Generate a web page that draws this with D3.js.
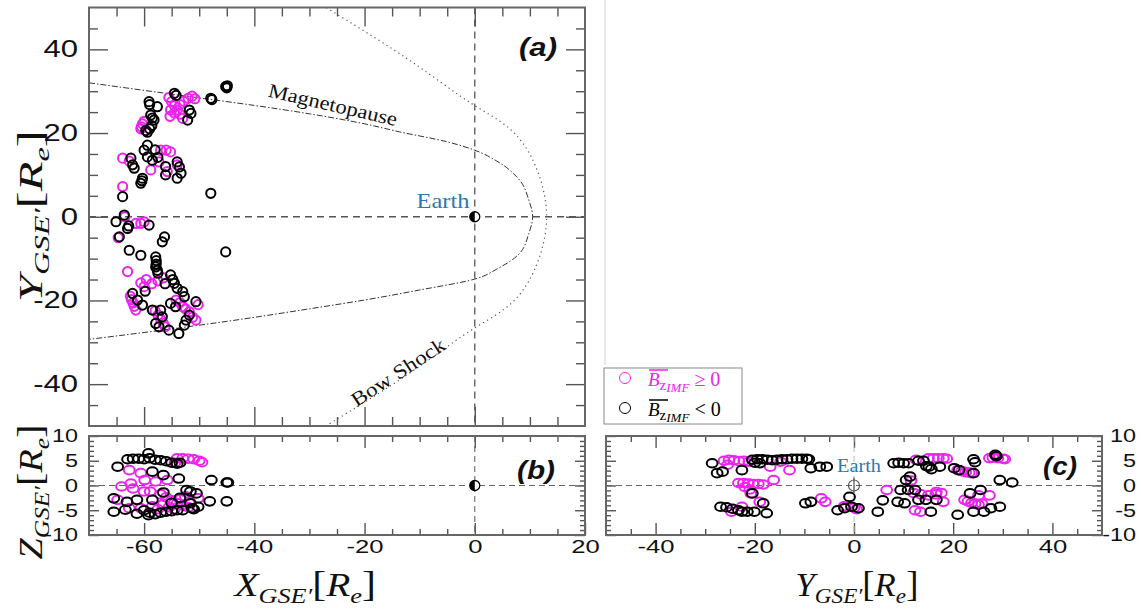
<!DOCTYPE html>
<html>
<head>
<meta charset="utf-8">
<script src="https://cdn.jsdelivr.net/npm/d3@7"></script>
<style>
  body { margin: 0; background: #fff; }
  svg { display: block; }
</style>
</head>
<body>
<script>
// ---- panel (a): X-Y plane, [X, Y] in Re ----
const aNeg = [
  [-59.1,27.5],[-59.0,26.8],[-57.6,26.3],[-58.8,24.3],[-58.5,23.6],[-58.2,23.1],[-59.7,20.6],[-59.4,20.2],
  [-59.0,21.0],[-58.6,21.8],[-54.5,29.5],[-54.2,29.0],[-51.8,25.5],[-51.5,24.7],[-52.1,23.1],[-47.9,28.3],
  [-47.7,28.0],[-45.2,31.1],[-44.9,31.3],[-45.0,30.8],
  [-59.4,17.1],[-62.4,14.0],[-61.8,11.6],[-62.1,12.4],[-60.0,15.9],[-59.4,14.3],[-58.5,13.5],[-60.3,9.2],
  [-60.6,8.0],[-60.4,8.6],[-56.1,12.0],[-56.1,10.0],[-54.0,13.1],[-53.6,11.9],[-53.3,10.4],[-54.0,9.2],
  [-63.9,4.8],[-47.9,5.6],[-58.0,16.0],[-57.5,14.2],
  [-63.6,0.4],[-65.1,-1.2],[-63.0,-2.8],[-62.8,-2.2],[-59.1,-2.0],[-64.5,-4.8],[-56.3,-4.8],[-62.7,-8.0],
  [-60.6,-9.2],[-56.7,-6.0],[-45.2,-8.4],
  [-57.9,-9.6],[-57.8,-10.5],[-57.8,-11.3],[-57.9,-12.0],[-57.6,-12.8],[-57.5,-13.5],
  [-55.2,-13.9],[-54.5,-15.9],[-54.0,-17.1],[-53.0,-17.9],[-52.7,-19.1],[-54.8,-15.0],
  [-62.1,-18.3],[-61.2,-19.9],[-60.3,-21.1],[-58.5,-22.3],[-57.0,-22.3],[-56.7,-23.9],
  [-57.9,-25.5],[-57.3,-26.3],[-55.5,-27.1],[-53.7,-27.9],[-52.4,-24.7],[-51.8,-23.5],[-52.7,-25.9],
  [-50.6,-20.3],[-55.2,-20.7],[-54.3,-21.5],[-59.8,-17.8],[-56.2,-16.0]
];
const aPos = [
  [-60.5,21.5],[-60.3,22.2],[-60.0,22.8],[-60.6,21.0],[-55.5,28.5],[-55.0,27.5],[-54.5,26.5],[-54.0,25.5],
  [-53.5,24.5],[-53.0,23.5],[-55.3,24.0],[-54.5,24.8],[-53.5,26.8],[-52.8,27.6],[-52.0,28.3],[-51.3,28.8],
  [-50.8,28.2],[-55.2,25.5],
  [-63.9,14.0],[-58.8,11.2],[-57.0,15.9],[-56.0,15.9],[-55.2,15.5],[-57.3,13.1],[-54.0,12.4],[-63.9,7.2],
  [-62.7,13.3],[-55.8,10.8],
  [-63.5,0.0],[-61.5,-1.6],[-60.6,-1.6],[-60.0,-1.2],[-64.7,-5.0],
  [-63.0,-13.1],[-60.6,-15.8],[-59.6,-15.0],[-58.6,-16.0],[-57.5,-15.3],[-56.5,-14.6],[-60.0,-16.7],
  [-62.5,-19.0],[-62.3,-19.8],[-62.0,-20.6],[-61.8,-21.4],[-61.5,-22.3],
  [-58.0,-22.5],[-57.5,-23.5],[-57.0,-24.5],[-56.5,-25.5],[-56.2,-26.3],
  [-54.2,-19.9],[-53.0,-21.5],[-51.8,-22.7],[-50.6,-24.7],[-52.5,-22.0],[-51.2,-24.0],[-53.5,-20.5],[-50.2,-21.0]
];

// ---- panel (b): X-Z plane, [X, Z] ----
const bNeg = [
  [-63.0,5.3],[-62.0,5.4],[-61.0,5.4],[-60.0,5.3],[-59.0,5.5],[-58.0,5.2],[-57.0,5.1],[-56.0,4.9],
  [-55.0,4.6],[-54.0,4.4],[-53.5,4.6],
  [-64.8,3.8],[-59.2,6.5],[-58.5,2.8],[-56.5,2.1],[-53.7,1.4],[-47.8,1.1],[-45.0,0.6],[-44.8,0.6],
  [-56.5,-1.4],[-52.3,-0.9],[-51.6,-1.2],[-50.5,-1.6],[-65.5,-2.6],[-63.1,-3.3],[-61.3,-2.9],[-58.5,-2.9],
  [-63.4,-4.9],[-65.5,-5.3],
  [-60.0,-5.0],[-59.0,-5.5],[-58.0,-5.8],[-57.0,-5.5],[-56.0,-5.3],[-55.0,-5.2],[-54.0,-5.0],[-53.0,-5.0],
  [-59.2,-6.0],[-61.3,-5.7],
  [-51.3,-4.6],[-51.0,-4.8],[-48.1,-3.2],[-45.0,-3.2],[-50.2,-4.3],[-51.6,-3.6],[-55.0,-3.5],[-53.5,-2.5]
];
const bPos = [
  [-54.0,5.5],[-53.0,5.5],[-52.0,5.4],[-51.0,5.3],[-50.0,5.0],[-49.5,4.7],[-54.4,4.6],
  [-62.7,3.1],[-60.6,2.5],[-59.9,1.1],[-55.8,1.1],[-57.9,0.8],[-64.1,-0.2],[-62.4,0.4],[-62.0,-0.6],
  [-60.0,-1.2],[-58.9,-1.2],
  [-57.0,-1.8],[-56.0,-2.4],[-55.0,-3.0],[-54.0,-3.6],[-53.0,-4.0],[-52.0,-4.4],[-56.5,-3.8],[-55.5,-4.4],
  [-54.5,-4.8],[-53.5,-2.8],[-52.5,-2.2],[-51.8,-3.2],
  [-64.8,-2.9],[-62.7,-4.6],[-60.6,-4.6],[-50.2,-2.6],[-57.5,-4.8],[-58.5,-4.2]
];

// ---- panel (c): Y-Z plane, [Y, Z] ----
const cNeg = [
  [-28.6,4.5],[-27.6,2.5],[-26.5,2.8],[-22.6,3.1],
  [-20.5,5.2],[-19.5,5.3],[-18.5,5.3],[-17.5,5.2],[-16.5,5.1],[-15.5,5.2],[-14.5,5.3],[-13.5,5.3],
  [-12.5,5.4],[-11.5,5.4],[-10.5,5.4],[-9.5,5.4],[-9.1,5.3],[-20.0,4.6],[-19.0,4.5],
  [-8.7,3.5],[-5.5,3.8],[-6.9,3.8],
  [-26.9,-4.3],[-25.7,-4.4],[-24.5,-4.7],[-23.3,-5.0],[-22.6,-5.3],[-21.5,-5.3],[-20.1,-5.3],[-17.6,-5.6],
  [-18.3,-3.6],[-20.5,-1.6],
  [-9.8,-3.6],[-8.7,-3.3],[-3.3,-5.0],[-1.9,-4.6],[-0.5,-4.3],[0.9,-4.6],[-0.9,-2.3],[4.8,-5.3],[5.8,-3.0],
  [8.0,4.5],[9.0,4.6],[10.0,4.5],[11.0,4.5],[13.0,5.0],[14.0,5.0],[15.1,3.8],[17.3,3.8],[15.6,3.3],[14.6,3.9],
  [10.5,1.1],[11.3,1.8],[9.4,-0.9],[10.9,-0.9],[12.3,-0.9],[10.2,-3.6],[8.8,-3.3],[13.0,-2.9],[14.5,-2.9],
  [16.6,-2.9],[15.5,-5.3],[20.9,-5.9],
  [20.2,3.5],[21.2,3.1],[24.1,2.5],[24.1,5.3],[24.4,4.7],[28.7,5.9],[28.5,6.2],[29.4,1.1],[31.9,0.6],
  [23.4,-1.6],[25.5,-0.9],[24.1,-5.3],[26.2,-5.3],[27.6,-4.6],[29.4,-4.3]
];
const cPos = [
  [-26.2,5.0],[-25.2,5.2],[-24.2,5.1],[-23.2,4.9],[-22.2,5.0],[-21.2,4.8],[-25.5,4.2],
  [-16.9,3.8],[-14.8,4.8],[-13.0,3.1],[-16.2,1.1],
  [-24.7,-5.3],[-22.6,-4.3],[-19.0,-3.3],
  [-23.3,0.5],[-22.3,0.5],[-21.3,0.4],[-20.3,0.3],[-19.3,0.3],[-18.3,0.2],[-22.0,-0.3],[-21.0,-0.8],[-20.8,-1.6],
  [-6.6,-2.6],[-5.8,-3.3],[-2.0,-4.2],[0.0,-4.5],[0.5,-4.8],
  [6.6,-0.9],[12.0,-1.5],[13.5,-1.8],[15.0,-2.0],[16.5,-1.8],[17.6,-1.5],[12.3,-5.0],[13.4,-5.3],[18.0,-3.3],
  [16.6,-1.3],[11.5,1.0],
  [15.0,5.5],[16.0,5.5],[17.0,5.5],[18.0,5.5],[18.7,5.4],[12.5,5.2],
  [20.9,3.1],[21.7,2.9],[22.5,2.7],[23.2,2.6],[23.7,2.5],
  [27.3,5.5],[28.0,5.6],[29.0,5.5],[30.0,5.4],[30.4,5.3],
  [25.1,-2.0],[27.3,-2.0],[22.3,-2.9],[23.0,-3.2],[23.7,-3.5],[24.4,-3.7],[25.1,-3.9],[25.8,-3.7]
];

// model boundaries, ordered by Y
const magnetopause = [
  [-70,32],[-60,30.2],[-50,28.4],[-40,26.6],[-30,24.6],[-20,22.2],[-13.7,20.3],[-5,17.9],[0,15.9],
  [4,13.3],[8.1,8.8],[9.8,4],[10.5,0],[9.8,-4],[8.1,-8.8],[4,-12.5],[0,-14.9],[-10,-17.5],[-20,-19.9],
  [-30,-22],[-45,-25],[-55,-26.8],[-70,-29.3]
];
const bowShock = [
  [-32,54],[-27,50],[-14,39.5],[-6,32],[0,26.3],[6.8,21.5],[11.1,13.5],[14,0],
  [11.1,-13.5],[6.8,-21.5],[0,-26.3],[-6,-32],[-14,-39.5],[-27,-50],[-32,-54]
];

const xTicksAB = [-60,-40,-20,0,20];
const yTicksA = [-40,-20,0,20,40];
const zTicks = [-10,-5,0,5,10];
const yTicksC = [-40,-20,0,20,40];

const MAG = "#ee22ee";
const BLUE = "#2a78b5";
const FRAME = "#666";

const svg = d3.select("body").append("svg").attr("width",1141).attr("height",610);

const xA = d3.scaleLinear().domain([-70,20]).range([89,585]);
const yA = d3.scaleLinear().domain([-50,50]).range([426,7.5]);
const zS = d3.scaleLinear().domain([-10,10]).range([535,436]);
const yC = d3.scaleLinear().domain([-50,50]).range([606,1102]);

// faint divider from the original layout
svg.append("line").attr("x1",605).attr("x2",605).attr("y1",0).attr("y2",365)
  .attr("stroke","#e2e2e2").attr("stroke-width",1.5);

const range = (a,b,s) => d3.range(a,b+s/2,s);

// inward ticks on one side; labels only if fmt given
function ticks(axisFn, scale, pos, vals, len, fmt, opt = {}) {
  const ax = axisFn(scale).tickValues(vals).tickSize(-len).tickPadding(opt.pad || 8)
    .tickFormat(fmt || (() => ""));
  const g = svg.append("g").attr("transform", pos).call(ax);
  g.select(".domain").remove();
  g.selectAll(".tick line").attr("stroke","#555").attr("stroke-width",1.4);
  g.selectAll("text").attr("fill","#111").attr("font-family","Liberation Sans, Arial, sans-serif")
    .attr("font-size", opt.fs || 18);
  if (fmt && opt.k) {
    const k = opt.k;
    g.selectAll("text").each(function() {
      const t = d3.select(this);
      if (axisFn === d3.axisLeft) t.attr("x", -(opt.pad || 8)/k);
      if (axisFn === d3.axisRight) t.attr("x", (opt.pad || 8)/k).attr("text-anchor", opt.anchor || "start");
      t.attr("transform", `scale(${k},1)`);
    });
  }
  return g;
}
const lab = d => String(d);

// ---------- panel (a) ----------
const aW = 585-89, aH = 426-7.5;
const aMinorX = range(-65,15,5).filter(d => !xTicksAB.includes(d));
const aMinorY = range(-45,45,5).filter(d => !yTicksA.includes(d));
ticks(d3.axisLeft, yA, "translate(89,0)", aMinorY, 9);
ticks(d3.axisLeft, yA, "translate(89,0)", yTicksA, 19, lab, {fs:23, k:1.35, pad:11});
ticks(d3.axisRight, yA, "translate(585,0)", aMinorY, 9);
ticks(d3.axisRight, yA, "translate(585,0)", yTicksA, 19);
ticks(d3.axisTop, xA, "translate(0,7.5)", aMinorX, 9);
ticks(d3.axisTop, xA, "translate(0,7.5)", xTicksAB.slice(0,4), 19);
ticks(d3.axisBottom, xA, "translate(0,426)", aMinorX, 9);
ticks(d3.axisBottom, xA, "translate(0,426)", xTicksAB.slice(0,4), 19);

svg.append("clipPath").attr("id","clipA").append("rect")
  .attr("x",89).attr("y",7.5).attr("width",aW).attr("height",aH);
const gA = svg.append("g").attr("clip-path","url(#clipA)");

gA.append("line").attr("x1",89).attr("x2",585).attr("y1",yA(0)).attr("y2",yA(0))
  .attr("stroke","#555").attr("stroke-width",1.3).attr("stroke-dasharray","7,5");
gA.append("line").attr("x1",xA(0)).attr("x2",xA(0)).attr("y1",7.5).attr("y2",426)
  .attr("stroke","#555").attr("stroke-width",1.3).attr("stroke-dasharray","7,5");

const lineMP = d3.line().x(d => xA(d[0])).y(d => yA(d[1])).curve(d3.curveMonotoneY);
const lineBS = d3.line().x(d => xA(d[0])).y(d => yA(d[1])).curve(d3.curveBasis);
gA.append("path").attr("d", lineMP(magnetopause)).attr("fill","none")
  .attr("stroke","#333").attr("stroke-width",1).attr("stroke-dasharray","6,2,1.5,2");
gA.append("path").attr("d", lineBS(bowShock)).attr("fill","none")
  .attr("stroke","#555").attr("stroke-width",1.2).attr("stroke-dasharray","1.2,3.5");

// open markers; (b) and (c) are drawn slightly wider than tall, as in the source
function dots(g, data, sx, sy, color, rx, ry) {
  g.selectAll(null).data(data).enter().append("ellipse")
    .attr("cx", d => sx(d[0])).attr("cy", d => sy(d[1])).attr("rx",rx).attr("ry",ry)
    .attr("fill","none").attr("stroke",color).attr("stroke-width",2);
}
dots(gA, aPos, xA, yA, MAG, 4.6, 4.6);
dots(gA, aNeg, xA, yA, "#000", 4.6, 4.6);

function halfEarth(g, cx, cy) {
  g.append("circle").attr("cx",cx).attr("cy",cy).attr("r",5)
    .attr("fill","#fff").attr("stroke","#000").attr("stroke-width",1.3);
  g.append("path").attr("d",`M${cx},${cy-5}A5,5 0 0 0 ${cx},${cy+5}Z`).attr("fill","#000");
}
halfEarth(svg, xA(0), yA(0));

svg.append("rect").attr("x",89).attr("y",7.5).attr("width",aW).attr("height",aH)
  .attr("fill","none").attr("stroke",FRAME).attr("stroke-width",2);

// ---------- panel (b) ----------
const bMinorX = range(-65,15,5).filter(d => !xTicksAB.includes(d));
const zMinor = range(-9,9,1).filter(d => !zTicks.includes(d));
ticks(d3.axisLeft, zS, "translate(89,0)", zMinor, 5);
ticks(d3.axisLeft, zS, "translate(89,0)", zTicks, 10, lab, {fs:18, k:1.3, pad:11});
ticks(d3.axisRight, zS, "translate(585,0)", zMinor, 5);
ticks(d3.axisRight, zS, "translate(585,0)", zTicks, 10);
ticks(d3.axisTop, xA, "translate(0,436)", bMinorX, 6);
ticks(d3.axisTop, xA, "translate(0,436)", xTicksAB.slice(0,4), 12);
ticks(d3.axisBottom, xA, "translate(0,535)", bMinorX, 6);
ticks(d3.axisBottom, xA, "translate(0,535)", xTicksAB, 12, lab, {fs:19, k:1.35, pad:5});

svg.append("clipPath").attr("id","clipB").append("rect")
  .attr("x",89).attr("y",436).attr("width",aW).attr("height",99);
const gB = svg.append("g").attr("clip-path","url(#clipB)");
gB.append("line").attr("x1",89).attr("x2",585).attr("y1",zS(0)).attr("y2",zS(0))
  .attr("stroke","#666").attr("stroke-width",1.1).attr("stroke-dasharray","6,4");
gB.append("line").attr("x1",xA(0)).attr("x2",xA(0)).attr("y1",436).attr("y2",535)
  .attr("stroke","#666").attr("stroke-width",1.1).attr("stroke-dasharray","6,4");
dots(gB, bPos, xA, zS, MAG, 5.4, 4.3);
dots(gB, bNeg, xA, zS, "#000", 5.4, 4.3);
halfEarth(svg, xA(0), zS(0));
svg.append("rect").attr("x",89).attr("y",436).attr("width",aW).attr("height",99)
  .attr("fill","none").attr("stroke",FRAME).attr("stroke-width",2);

// ---------- panel (c) ----------
const cMinorX = range(-45,45,5).filter(d => !yTicksC.includes(d));
ticks(d3.axisLeft, zS, "translate(606,0)", zMinor, 5);
ticks(d3.axisLeft, zS, "translate(606,0)", zTicks, 10);
ticks(d3.axisRight, zS, "translate(1102,0)", zMinor, 5);
ticks(d3.axisRight, zS, "translate(1102,0)", zTicks, 10, lab, {fs:18, k:1.3, pad:34, anchor:"end"});
ticks(d3.axisTop, yC, "translate(0,436)", cMinorX, 6);
ticks(d3.axisTop, yC, "translate(0,436)", yTicksC, 12);
ticks(d3.axisBottom, yC, "translate(0,535)", cMinorX, 6);
ticks(d3.axisBottom, yC, "translate(0,535)", yTicksC, 12, lab, {fs:19, k:1.35, pad:5});

svg.append("clipPath").attr("id","clipC").append("rect")
  .attr("x",606).attr("y",436).attr("width",496).attr("height",99);
const gC = svg.append("g").attr("clip-path","url(#clipC)");
gC.append("line").attr("x1",606).attr("x2",1102).attr("y1",zS(0)).attr("y2",zS(0))
  .attr("stroke","#666").attr("stroke-width",1.1).attr("stroke-dasharray","6,4");
gC.append("line").attr("x1",yC(0)).attr("x2",yC(0)).attr("y1",436).attr("y2",535)
  .attr("stroke","#bbb").attr("stroke-width",1).attr("stroke-dasharray","6,4");
dots(gC, cPos, yC, zS, MAG, 5.4, 4.3);
dots(gC, cNeg, yC, zS, "#000", 5.4, 4.3);
svg.append("circle").attr("cx",yC(0)).attr("cy",zS(0)).attr("r",5.5)
  .attr("fill","none").attr("stroke","#555").attr("stroke-width",1.2);
svg.append("line").attr("x1",yC(0)).attr("x2",yC(0)).attr("y1",zS(0)-8).attr("y2",zS(0)+8)
  .attr("stroke","#555").attr("stroke-width",1.2);
svg.append("rect").attr("x",606).attr("y",436).attr("width",496).attr("height",99)
  .attr("fill","none").attr("stroke",FRAME).attr("stroke-width",2);

// ---------- texts ----------
// place a text centred at (cx,cy), rotated, horizontally stretched to width w
function place(t, cx, cy, rot, w) {
  const b = t.node().getBBox();
  const k = w ? w / b.width : 1;
  t.attr("transform", `translate(${cx},${cy}) rotate(${rot}) scale(${k},1) translate(${-b.x-b.width/2},${-b.y-b.height/2})`);
}
function plain(str, o) {
  return svg.append("text").text(str).attr("font-family", o.ff || "Liberation Serif, serif")
    .attr("font-size", o.fs).attr("font-style", o.fst || "normal")
    .attr("font-weight", o.fw || "normal").attr("fill", o.fill || "#111");
}
place(plain("(a)", {ff:"Liberation Sans, Arial, sans-serif", fs:26, fst:"italic", fw:"bold"}), 538, 47, 0, 38);
place(plain("(b)", {ff:"Liberation Sans, Arial, sans-serif", fs:26, fst:"italic", fw:"bold"}), 536, 470, 0, 38);
place(plain("(c)", {ff:"Liberation Sans, Arial, sans-serif", fs:26, fst:"italic", fw:"bold"}), 1060, 466, 0, 34);
place(plain("Magnetopause", {fs:20}), 333, 105, 13, 132);
place(plain("Bow Shock", {fs:20}), 398, 372, -33, 108);
place(plain("Earth", {fs:22, fill:BLUE}), 443, 200, 0, 53);
place(plain("Earth", {fs:18, fill:BLUE}), 859, 466, 0, 44);

// axis titles like Y_{GSE'}[R_e]
function mathLabel(letter) {
  const t = svg.append("text").attr("font-family","Liberation Serif, serif").attr("fill","#111");
  t.append("tspan").text(letter).attr("font-size",33).attr("font-style","italic");
  t.append("tspan").text("GSE\u2032").attr("font-size",22).attr("font-style","italic").attr("dy",7);
  t.append("tspan").text("[").attr("font-size",35).attr("dy",-7);
  t.append("tspan").text("R").attr("font-size",33).attr("font-style","italic");
  t.append("tspan").text("e").attr("font-size",22).attr("font-style","italic").attr("dy",7);
  t.append("tspan").text("]").attr("font-size",35).attr("dy",-7);
  return t;
}
place(mathLabel("Y"), 32, 216, -90, 172);
place(mathLabel("Z"), 32, 492, -90, 135);
place(mathLabel("X"), 304, 586, 0, 144);
place(mathLabel("Y"), 857, 586, 0, 123);

// ---------- legend ----------
const leg = svg.append("g");
leg.append("rect").attr("x",604).attr("y",368).attr("width",138).attr("height",56)
  .attr("fill","#fff").attr("stroke","#888").attr("stroke-width",1);
const legItems = [{c:MAG, rel:" \u2265 0", y:386}, {c:"#000", rel:" < 0", y:416}];
legItems.forEach(it => {
  leg.append("circle").attr("cx",625).attr("cy",it.y-8).attr("r",5.5)
    .attr("fill","none").attr("stroke",it.c).attr("stroke-width",1);
  const t = leg.append("text").attr("x",648).attr("y",it.y)
    .attr("font-family","Liberation Serif, serif").attr("fill",it.c);
  t.append("tspan").text("B").attr("font-size",19).attr("font-style","italic");
  t.append("tspan").text("z").attr("font-size",15).attr("dy",4);
  t.append("tspan").text("IMF").attr("font-size",13).attr("font-style","italic").attr("dy",2);
  t.append("tspan").text(it.rel).attr("font-size",20).attr("dy",-6);
  leg.append("line").attr("x1",649).attr("x2",668).attr("y1",it.y-16).attr("y2",it.y-16)
    .attr("stroke",it.c).attr("stroke-width",1.5);
});
</script>
</body>
</html>
